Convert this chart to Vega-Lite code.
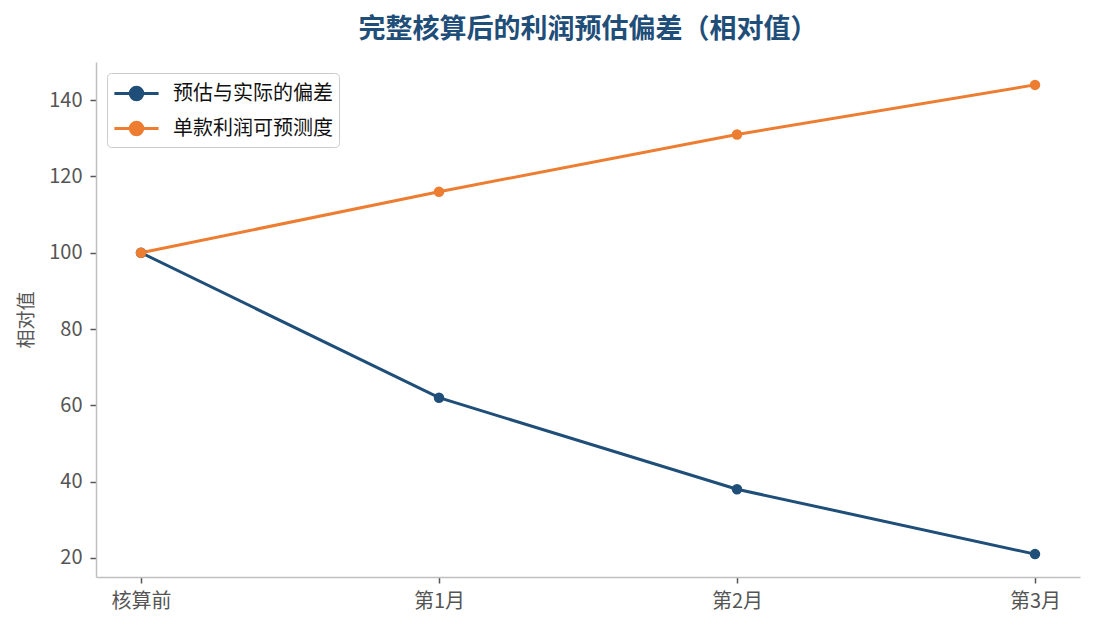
{
  "$schema": "https://vega.github.io/schema/vega-lite/v6.json",
  "autosize": "none",
  "width": 984,
  "height": 515,
  "padding": {"left": 96, "top": 62, "right": 15, "bottom": 53},
  "background": "white",
  "title": {
    "text": "完整核算后的利润预估偏差（相对值）",
    "font": "Noto Sans CJK SC",
    "fontSize": 27,
    "fontWeight": "bold",
    "color": "#1f4e79",
    "anchor": "middle",
    "offset": 18
  },
  "config": {
    "view": {"stroke": null},
    "font": "Noto Sans CJK SC",
    "axis": {
      "grid": false,
      "domainColor": "#c0c0c0",
      "domainWidth": 1.5,
      "tickColor": "#555555",
      "tickSize": 6,
      "tickWidth": 1.5,
      "labelColor": "#555555",
      "labelFontSize": 20,
      "titleColor": "#555555",
      "titleFontSize": 19,
      "titleFontWeight": "normal"
    }
  },
  "data": {
    "values": [
      {"stage": "核算前", "series": "预估与实际的偏差", "value": 100},
      {"stage": "第1月", "series": "预估与实际的偏差", "value": 62},
      {"stage": "第2月", "series": "预估与实际的偏差", "value": 38},
      {"stage": "第3月", "series": "预估与实际的偏差", "value": 21},
      {"stage": "核算前", "series": "单款利润可预测度", "value": 100},
      {"stage": "第1月", "series": "单款利润可预测度", "value": 116},
      {"stage": "第2月", "series": "单款利润可预测度", "value": 131},
      {"stage": "第3月", "series": "单款利润可预测度", "value": 144}
    ]
  },
  "encoding": {
    "x": {
      "field": "stage",
      "type": "ordinal",
      "sort": ["核算前", "第1月", "第2月", "第3月"],
      "scale": {"type": "point", "padding": 0.151},
      "axis": {"title": null, "labelAngle": 0, "labelPadding": 8}
    },
    "y": {
      "field": "value",
      "type": "quantitative",
      "scale": {"domain": [15, 150], "nice": false, "zero": false},
      "axis": {"title": "相对值", "values": [20, 40, 60, 80, 100, 120, 140], "labelPadding": 8, "titlePadding": 12}
    },
    "color": {
      "field": "series",
      "type": "nominal",
      "sort": ["预估与实际的偏差", "单款利润可预测度"],
      "scale": {"domain": ["预估与实际的偏差", "单款利润可预测度"], "range": ["#1f4e79", "#ed7d31"]},
      "legend": {
        "title": null,
        "orient": "top-left",
        "offset": 11,
        "strokeColor": "#cccccc",
        "cornerRadius": 4,
        "fillColor": "white",
        "padding": 6,
        "labelFontSize": 20,
        "labelColor": "#111111",
        "symbolType": "M-1.7,0H1.7M0.48,0A0.48,0.48,0,1,1,-0.48,0A0.48,0.48,0,1,1,0.48,0",
        "symbolSize": 676,
        "symbolStrokeWidth": 3,
        "symbolFillColor": null,
        "symbolOffset": 9,
        "labelOffset": 22,
        "rowPadding": 8
      }
    }
  },
  "layer": [
    {"mark": {"type": "line", "strokeWidth": 3}},
    {"mark": {"type": "circle", "size": 110, "opacity": 1}}
  ]
}
